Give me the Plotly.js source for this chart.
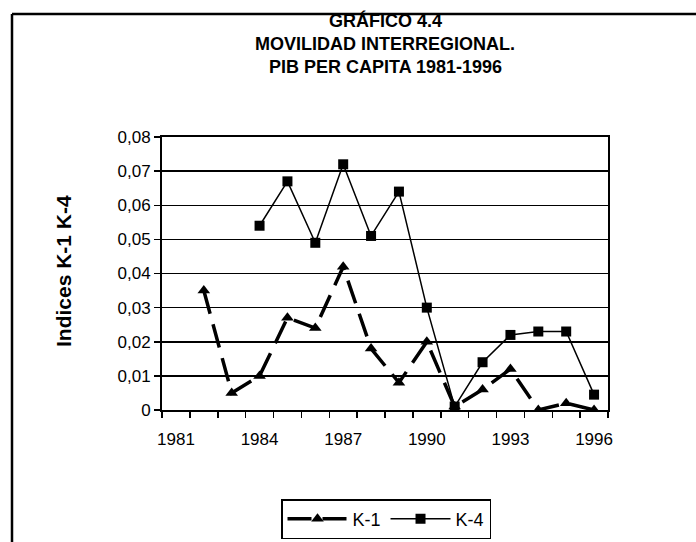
<!DOCTYPE html>
<html>
<head>
<meta charset="utf-8">
<script src="https://cdn.plot.ly/plotly-3.0.1.min.js"></script>
<style>
  body { margin: 0; background: #ffffff; }
  #chart { width: 696px; height: 542px; }
</style>
</head>
<body>
<div id="chart"></div>
<script>
// years on the category axis
var years = [1981, 1982, 1983, 1984, 1985, 1986, 1987, 1988,
             1989, 1990, 1991, 1992, 1993, 1994, 1995, 1996];
// K-1 index (no value for 1981)
var k1 = [null, 0.035, 0.005, 0.010, 0.027, 0.024, 0.042, 0.018,
          0.008, 0.020, 0.001, 0.006, 0.012, 0.000, 0.002, 0.000];
// K-4 index (starts 1984)
var k4 = [null, null, null, 0.054, 0.067, 0.049, 0.072, 0.051,
          0.064, 0.030, 0.001, 0.014, 0.022, 0.023, 0.023, 0.0045];

var xTickVals = [1981, 1984, 1987, 1990, 1993, 1996];
var yTickVals = [0, 0.01, 0.02, 0.03, 0.04, 0.05, 0.06, 0.07, 0.08];
var yTickText = ["0", "0,01", "0,02", "0,03", "0,04", "0,05", "0,06", "0,07", "0,08"];
var titleLines = ["GRÁFICO 4.4", "MOVILIDAD INTERREGIONAL.", "PIB PER CAPITA 1981-1996"];

var font = "Arial, 'Liberation Sans', sans-serif";

var traces = [
  {
    name: "K-1",
    type: "scatter",
    mode: "lines+markers",
    x: years,
    y: k1,
    connectgaps: false,
    line: { color: "#000000", width: 3.5, dash: "24px,11px" },
    marker: { symbol: "triangle-up", size: 11, color: "#000000" }
  },
  {
    name: "K-4",
    type: "scatter",
    mode: "lines+markers",
    x: years,
    y: k4,
    connectgaps: false,
    line: { color: "#000000", width: 1.5 },
    marker: { symbol: "square", size: 10, color: "#000000" }
  }
];

//pixel -> paper coordinates (plot area 162..608 x 137..410)
var px = function (v) { return (v - 162) / 446; };
var py = function (v) { return (410 - v) / 273; };

var annotations = [];
//title, one annotation per line
var titleY = [21, 44, 67];
for (var i = 0; i < titleLines.length; i++) {
  annotations.push({
    text: "<b>" + titleLines[i] + "</b>",
    xref: "paper", yref: "paper",
    x: px(385), y: py(titleY[i]),
    xanchor: "center", yanchor: "middle",
    showarrow: false,
    font: { family: font, size: 18, color: "#000000" }
  });
}
//y axis title
annotations.push({
  text: "<b>Indices K-1 K-4</b>",
  xref: "paper", yref: "paper",
  x: px(63), y: py(271),
  xanchor: "center", yanchor: "middle",
  textangle: -90,
  showarrow: false,
  font: { family: font, size: 21, color: "#000000" }
});

var layout = {
  width: 696,
  height: 542,
  margin: { l: 162, r: 88, t: 137, b: 132, autoexpand: false },
  paper_bgcolor: "#ffffff",
  plot_bgcolor: "#ffffff",
  font: { family: font, color: "#000000", size: 17 },
  xaxis: {
    range: [1980.5, 1996.5],
    tickvals: xTickVals,
    ticks: "",
    ticklabelstandoff: 13,
    tickfont: { size: 17 },
    showgrid: false,
    zeroline: false,
    showline: true,
    linecolor: "#000000",
    linewidth: 2,
    mirror: true,
    minor: {
      tick0: 1980.5,
      dtick: 1,
      ticks: "outside",
      ticklen: 6,
      tickwidth: 1.5,
      tickcolor: "#000000",
      showgrid: false
    },
    fixedrange: true
  },
  yaxis: {
    range: [0, 0.08],
    tickvals: yTickVals,
    ticktext: yTickText,
    ticks: "outside",
    ticklen: 6,
    tickwidth: 1.5,
    tickcolor: "#000000",
    tickfont: { size: 17 },
    showgrid: true,
    gridcolor: "#000000",
    gridwidth: 1.5,
    zeroline: false,
    showline: true,
    linecolor: "#000000",
    linewidth: 2,
    mirror: true,
    fixedrange: true
  },
  showlegend: true,
  legend: {
    orientation: "h",
    x: px(386),
    xanchor: "center",
    y: py(539),
    yanchor: "bottom",
    bordercolor: "#000000",
    borderwidth: 1.5,
    bgcolor: "#ffffff",
    itemwidth: 60,
    font: { family: font, size: 18, color: "#000000" }
  },
  annotations: annotations,
  shapes: [
    //frame of the whole chart (only top and left edges are visible)
    {
      type: "line", xref: "paper", yref: "paper",
      x0: px(12), x1: px(700), y0: py(14), y1: py(14),
      line: { color: "#000000", width: 2.5 }
    },
    {
      type: "line", xref: "paper", yref: "paper",
      x0: px(12), x1: px(12), y0: py(14), y1: py(545),
      line: { color: "#000000", width: 2.5 }
    }
  ]
};

var config = {
  displayModeBar: false,
  staticPlot: true
};

Plotly.newPlot("chart", traces, layout, config);
</script>
</body>
</html>
